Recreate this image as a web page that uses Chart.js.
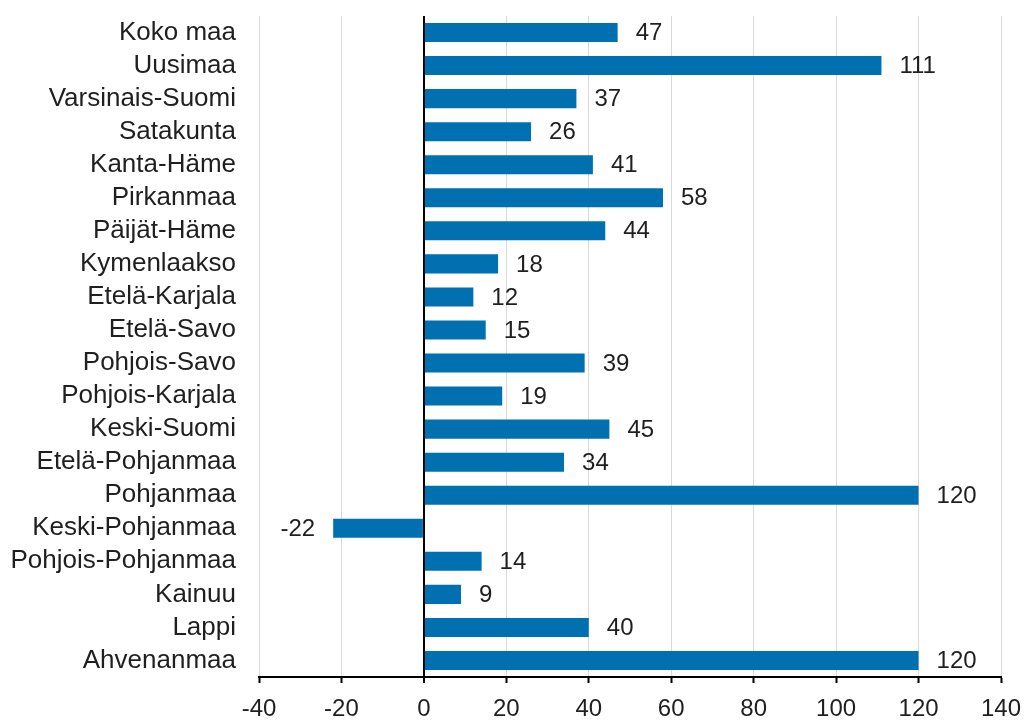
<!DOCTYPE html>
<html>
<head>
<meta charset="utf-8">
<script src="https://cdn.jsdelivr.net/npm/chart.js@4.4.0/dist/chart.umd.min.js"></script>
<style>
  html, body { margin: 0; padding: 0; background: #fff; }
  #wrap { width: 1028px; height: 720px; }
</style>
</head>
<body>
<div id="wrap"><canvas id="chart" width="1028" height="720"></canvas></div>
<script>
// Maakunnat ja arvot
const regions = ['Koko maa', 'Uusimaa', 'Varsinais-Suomi', 'Satakunta', 'Kanta-Häme', 'Pirkanmaa',
  'Päijät-Häme', 'Kymenlaakso', 'Etelä-Karjala', 'Etelä-Savo', 'Pohjois-Savo', 'Pohjois-Karjala',
  'Keski-Suomi', 'Etelä-Pohjanmaa', 'Pohjanmaa', 'Keski-Pohjanmaa', 'Pohjois-Pohjanmaa', 'Kainuu',
  'Lappi', 'Ahvenanmaa'];
const values = [47, 111, 37, 26, 41, 58, 44, 18, 12, 15, 39, 19, 45, 34, 120, -22, 14, 9, 40, 120];
const xMin = -40;
const xMax = 140;
const xStep = 20;

const FONT = 'Liberation Sans, Arial, sans-serif';
const TEXT = '#1f1f1f';

// piirtää arvot palkkien perään
const valueLabels = {
    id: 'valueLabels',
    afterDatasetsDraw(chart) {
        const ctx = chart.ctx;
        const meta = chart.getDatasetMeta(0);
        ctx.save();
        ctx.font = '24px ' + FONT;
        ctx.fillStyle = TEXT;
        ctx.textBaseline = 'middle';
        meta.data.forEach((bar, i) => {
            const v = values[i];
            if (v >= 0) {
                ctx.textAlign = 'left';
                ctx.fillText(String(v), bar.x + 18, bar.y + 1);
            } else {
                ctx.textAlign = 'right';
                ctx.fillText(String(v), bar.x - 18, bar.y + 1);
            }
        });
        ctx.restore();
    }
};

new Chart(document.getElementById('chart').getContext('2d'), {
    type: 'bar',
    data: {
        labels: regions,
        datasets: [{
            data: values,
            backgroundColor: '#0070b0',
            borderWidth: 0,
            barPercentage: 0.575,
            categoryPercentage: 1
        }]
    },
    options: {
        indexAxis: 'y',
        responsive: false,
        animation: false,
        layout: { padding: { top: 16, right: 27, left: 0, bottom: 0 } },
        plugins: { legend: { display: false }, tooltip: { enabled: false } },
        scales: {
            x: {
                min: xMin,
                max: xMax,
                afterFit: s => { s.height = 43; s.paddingLeft = 0; s.paddingRight = 0; },
                ticks: { stepSize: xStep, color: TEXT, font: { family: FONT, size: 24 }, padding: 12 },
                grid: {
                    color: c => (c.tick && c.tick.value === 0) ? '#000' : '#d9d9d9',
                    lineWidth: c => (c.tick && c.tick.value === 0) ? 2 : 1,
                    tickColor: '#000',
                    tickWidth: 2,
                    tickLength: 6
                },
                border: { display: true, color: '#000', width: 2 }
            },
            y: {
                afterFit: s => { s.width = 259; s.paddingTop = 0; s.paddingBottom = 0; },
                ticks: { autoSkip: false, color: TEXT, font: { family: FONT, size: 26 }, padding: 23 },
                grid: { display: false, drawTicks: false },
                border: { display: false }
            }
        }
    },
    plugins: [valueLabels]
});
</script>
</body>
</html>
